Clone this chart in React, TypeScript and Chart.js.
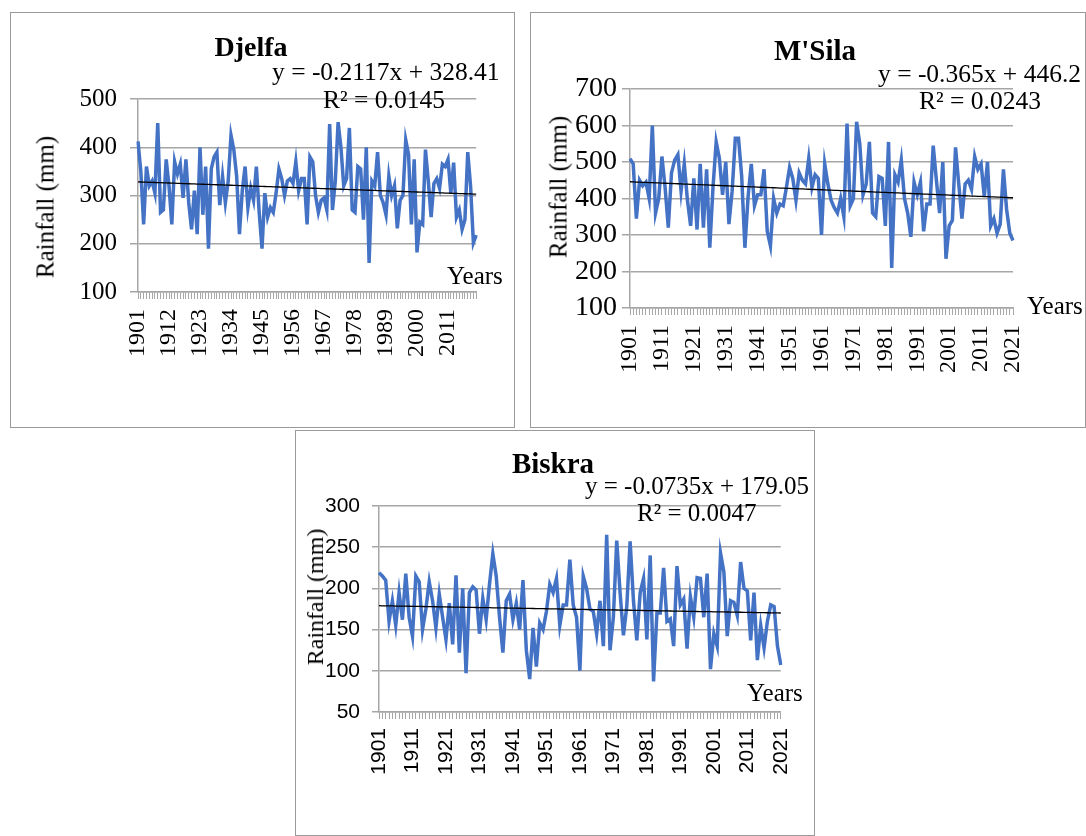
import React, { useEffect, useRef } from "react";
import { Chart, registerables } from "chart.js";

Chart.register(...registerables);

const startYear = 1901;
const yearCount = 121;
const years: string[] = Array.from({ length: yearCount }, (_, i) => String(startYear + i));

const djelfaRain: number[] = [
  412, 350, 240, 360, 320, 330, 305, 450, 265, 270,
  375, 320, 240, 370, 345, 365, 295, 375, 285, 230,
  310, 220, 400, 260, 360, 190, 355, 380, 390, 280,
  340, 285, 330, 425, 395, 340, 220, 310, 360, 275,
  315, 290, 360, 265, 190, 305, 255, 275, 265, 305,
  355, 335, 300, 330, 335, 325, 370, 310, 335, 335,
  240, 380, 370, 300, 265, 290, 295, 270, 448, 270,
  330, 452, 400, 320, 335, 440, 270, 265, 360, 355,
  250, 400, 160, 330, 320, 390, 300, 285, 260, 340,
  300, 320, 232, 290, 300, 415, 385, 240, 375, 182,
  245, 240, 395, 330, 255, 325, 335, 315, 365, 360,
  375, 305, 368, 255, 270, 230, 250, 390, 320, 202,
  218,
];

const msilaRain: number[] = [
  509, 495, 345, 450, 435, 445, 400, 600, 360, 400,
  515, 430, 320, 470, 505, 520, 420, 495, 395, 325,
  455, 315, 495, 320, 480, 265, 430, 555, 510, 410,
  500, 330, 420, 565, 565, 460, 265, 405, 495, 380,
  410, 410, 480, 310, 270, 400, 360, 385, 380, 430,
  485, 455, 395, 470, 450, 440, 510, 430, 465, 455,
  300, 495, 440, 395, 375, 360, 400, 350, 605, 380,
  400, 610, 550, 410, 440, 555, 360, 350, 460, 455,
  325, 555, 210, 465, 445, 505, 400, 360, 295, 445,
  410, 445, 310, 385, 385, 545, 450, 360, 500, 235,
  325, 340, 540, 440, 345, 440, 450, 425, 515, 480,
  495, 405, 500, 325, 345, 305, 330, 480, 370, 305,
  285,
];

const biskraRain: number[] = [
  219, 215, 210, 160, 185, 155, 195, 162, 218, 165,
  142, 215, 208, 150, 175, 208, 185, 152, 193, 165,
  138, 182, 132, 216, 122, 200, 97, 195, 202, 198,
  145, 188, 162, 205, 242, 215, 165, 122, 185, 193,
  162, 182, 150, 210, 125, 90, 152, 105, 158, 150,
  172, 205, 195, 212, 155, 180, 180, 235, 180, 165,
  100, 215, 200, 175, 172, 145, 185, 130, 265, 125,
  165, 258, 195, 143, 178, 257, 185, 137, 195, 212,
  138, 240, 87, 170, 170, 225, 160, 163, 130, 227,
  180, 187, 127, 190, 165, 213, 212, 165, 218, 102,
  145, 130, 243, 220, 142, 185, 183, 167, 232, 200,
  197, 137, 195, 113, 155, 128, 160, 180, 178, 130,
  107,
];

// Trend-line coefficients printed on the chart (y = slope * x + intercept, x = 1..n)
const djelfaTrend = { slope: -0.2117, intercept: 328.41 };
const msilaTrend = { slope: -0.365, intercept: 446.2 };
const biskraTrend = { slope: -0.0735, intercept: 179.05 };

const djelfaYTicks = { min: 100, max: 500, step: 100 };
const msilaYTicks = { min: 100, max: 700, step: 100 };
const biskraYTicks = { min: 50, max: 300, step: 50 };

const SERIF = "'Liberation Serif', 'Times New Roman', serif";
const SANS = "'Liberation Sans', Arial, sans-serif";
const GRID = "#a6a6a6";

type TextItem = {
  text: string;
  x: number;
  y: number;
  size: number;
  bold?: boolean;
  center?: boolean;
  rotate?: boolean;
};

type PanelProps = {
  box: { left: number; top: number; width: number; height: number };
  plot: { left: number; right: number; top: number; bottom: number };
  values: number[];
  trend: { slope: number; intercept: number };
  yTicks: { min: number; max: number; step: number };
  labelStep: number;
  tickFont: { family: string; ySize: number; xSize: number };
  yTickLen: number;
  yPad: number;
  xPad: number;
  texts: TextItem[];
};

function Panel(p: PanelProps) {
  const ref = useRef<HTMLCanvasElement | null>(null);
  useEffect(() => {
    if (!ref.current) return;
    const { box, plot } = p;
    const trendData = p.values.map((_, i) => p.trend.slope * (i + 1) + p.trend.intercept);
    const chart = new Chart(ref.current, {
      type: "line",
      data: {
        labels: years,
        datasets: [
          { data: trendData, borderColor: "#000000", borderWidth: 1.3, pointRadius: 0, tension: 0 },
          { data: p.values, borderColor: "#4472C4", borderWidth: 3.5, pointRadius: 0, tension: 0 },
        ],
      },
      options: {
        animation: false,
        responsive: false,
        events: [],
        layout: {
          padding: {
            top: plot.top - box.top,
            right: box.left + box.width - plot.right,
            left: 0,
            bottom: 0,
          },
        },
        plugins: { legend: { display: false }, tooltip: { enabled: false }, title: { display: false } },
        scales: {
          x: {
            type: "category",
            offset: false,
            grid: { display: true, drawOnChartArea: false, drawTicks: true, tickLength: 7, color: GRID, lineWidth: 1 },
            border: { display: true, color: GRID, width: 1.5 },
            ticks: {
              autoSkip: false,
              maxRotation: 90,
              minRotation: 90,
              padding: p.xPad,
              color: "#000000",
              font: { family: p.tickFont.family, size: p.tickFont.xSize },
              callback: (_v: any, i: number) => (i % p.labelStep === 0 ? years[i] : ""),
            },
            afterFit: (s: any) => {
              s.height = box.top + box.height - plot.bottom;
            },
          },
          y: {
            min: p.yTicks.min,
            max: p.yTicks.max,
            ticks: {
              stepSize: p.yTicks.step,
              autoSkip: false,
              maxTicksLimit: 20,
              padding: p.yPad,
              color: "#000000",
              font: { family: p.tickFont.family, size: p.tickFont.ySize, lineHeight: 1 },
            },
            grid: { color: GRID, lineWidth: 1.5, tickLength: p.yTickLen },
            border: { display: true, color: GRID, width: 1.5 },
            afterFit: (s: any) => {
              s.width = plot.left - box.left;
            },
          },
        },
      },
    });
    return () => chart.destroy();
  }, []);

  const { box } = p;
  return (
    <>
      <div
        style={{
          position: "absolute",
          left: box.left,
          top: box.top,
          width: box.width,
          height: box.height,
          border: "1px solid #9a9a9a",
          boxSizing: "border-box",
          background: "#fff",
        }}
      />
      <canvas
        ref={ref}
        width={box.width}
        height={box.height}
        style={{ position: "absolute", left: box.left, top: box.top, width: box.width, height: box.height }}
      />
      {p.texts.map((t, i) => (
        <div
          key={i}
          style={{
            position: "absolute",
            left: t.x,
            top: t.y,
            fontFamily: SERIF,
            fontSize: t.size,
            fontWeight: t.bold ? "bold" : "normal",
            lineHeight: 1,
            whiteSpace: "nowrap",
            color: "#000",
            transform: t.rotate
              ? "translate(-50%, -50%) rotate(-90deg)"
              : t.center
              ? "translate(-50%, -50%)"
              : "translateY(-50%)",
          }}
        >
          {t.text}
        </div>
      ))}
    </>
  );
}

export default function App() {
  return (
    <div style={{ position: "absolute", left: 0, top: 0, width: 1086, height: 836, background: "#fff", overflow: "hidden" }}>
      <Panel
        box={{ left: 10, top: 12, width: 505, height: 416 }}
        plot={{ left: 138, right: 485, top: 99, bottom: 292 }}
        values={djelfaRain}
        trend={djelfaTrend}
        yTicks={djelfaYTicks}
        labelStep={11}
        tickFont={{ family: SERIF, ySize: 25, xSize: 24 }}
        yTickLen={8}
        yPad={13}
        xPad={10}
        texts={[
          { text: "Djelfa", x: 251, y: 47, size: 28, bold: true, center: true },
          { text: "y = -0.2117x + 328.41", x: 272, y: 72, size: 25.5 },
          { text: "R² = 0.0145", x: 323, y: 100, size: 25.5 },
          { text: "Years", x: 447, y: 275, size: 25 },
          { text: "Rainfall (mm)", x: 45, y: 207, size: 25, rotate: true },
        ]}
      />
      <Panel
        box={{ left: 530, top: 12, width: 556, height: 416 }}
        plot={{ left: 630, right: 1013, top: 89, bottom: 308 }}
        values={msilaRain}
        trend={msilaTrend}
        yTicks={msilaYTicks}
        labelStep={10}
        tickFont={{ family: SERIF, ySize: 28, xSize: 24 }}
        yTickLen={8}
        yPad={5}
        xPad={10}
        texts={[
          { text: "M'Sila", x: 815, y: 50, size: 29, bold: true, center: true },
          { text: "y = -0.365x + 446.2", x: 878, y: 74, size: 25.5 },
          { text: "R² = 0.0243", x: 919, y: 101, size: 25.5 },
          { text: "Years", x: 1027, y: 305, size: 25 },
          { text: "Rainfall (mm)", x: 558, y: 187, size: 25, rotate: true },
        ]}
      />
      <Panel
        box={{ left: 295, top: 430, width: 520, height: 406 }}
        plot={{ left: 379, right: 786, top: 506, bottom: 712 }}
        values={biskraRain}
        trend={biskraTrend}
        yTicks={biskraYTicks}
        labelStep={10}
        tickFont={{ family: SANS, ySize: 21, xSize: 21 }}
        yTickLen={7}
        yPad={12}
        xPad={9}
        texts={[
          { text: "Biskra", x: 553, y: 463, size: 29, bold: true, center: true },
          { text: "y = -0.0735x + 179.05", x: 585, y: 485, size: 25 },
          { text: "R² = 0.0047", x: 637, y: 512, size: 25 },
          { text: "Years", x: 747, y: 692, size: 25 },
          { text: "Rainfall (mm)", x: 315, y: 597, size: 24, rotate: true },
        ]}
      />
    </div>
  );
}
